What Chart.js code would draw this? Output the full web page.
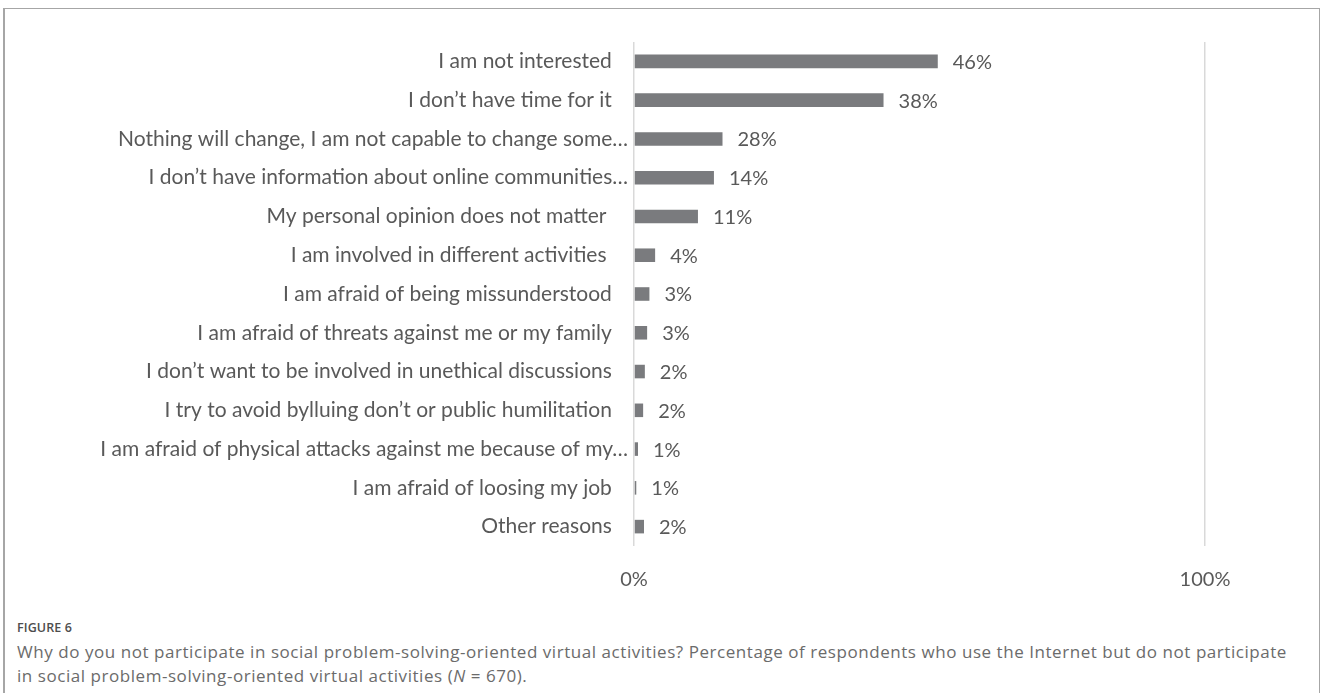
<!DOCTYPE html>
<html>
<head>
<meta charset="utf-8">
<script src="https://cdn.jsdelivr.net/npm/chart.js@4.4.1/dist/chart.umd.min.js"></script>
<style>
    html, body { margin: 0; padding: 0; background: #fff; }
    body { width: 1328px; height: 693px; position: relative; overflow: hidden; }
    .marco {
        position: absolute; left: 3px; top: 8px; width: 1317px; height: 700px;
        border: 1px solid #a6a6a6; border-left-width: 2px; box-sizing: border-box;
    }
    .grafico { position: absolute; left: 0; top: 0; width: 1328px; height: 600px; }
    .pie {
        position: absolute; left: 17px; top: 619px; font-family: 'Open Sans', sans-serif;
        color: #6b6b6b; white-space: nowrap;
    }
    .pie .titulo { font-size: 12.5px; font-weight: 600; color: #4d4d4d; letter-spacing: 0.1px; }
    .pie .texto { font-size: 17px; letter-spacing: 0.55px; line-height: 24px; margin-top: 4px; }
</style>
</head>
<body>
<div class="marco"></div>
<div class="grafico"><canvas id="motivosChart" width="1328" height="600"></canvas></div>
<div class="pie">
    <div class="titulo">FIGURE 6</div>
    <div class="texto">Why do you not participate in social problem-solving-oriented virtual activities? Percentage of respondents who use the Internet but do not participate<br>in social problem-solving-oriented virtual activities (<i>N</i> = 670).</div>
</div>
<script>
// Categorías (eje vertical)
const categorias = [
    'I am not interested',
    'I don’t have time for it',
    'Nothing will change, I am not capable to change some…',
    'I don’t have information about online communities…',
    'My personal opinion does not matter ',
    'I am involved in different activities ',
    'I am afraid of being missunderstood',
    'I am afraid of threats against me or my family',
    'I don’t want to be involved in unethical discussions',
    'I try to avoid bylluing don’t or public humilitation',
    'I am afraid of physical attacks against me because of my…',
    'I am afraid of loosing my job',
    'Other reasons'
];

// Largo de las barras (en % del eje)
const valoresBarras = [53.2, 43.7, 15.5, 14.0, 11.2, 3.7, 2.7, 2.3, 1.9, 1.6, 0.7, 0.4, 1.75];

// Etiquetas de datos tal como aparecen
const etiquetasDatos = ['46%', '38%', '28%', '14%', '11%', '4%', '3%', '3%', '2%', '2%', '1%', '1%', '2%'];

// Marcas del eje horizontal
const marcasEje = [0, 100];

const fuente = "'Lato', sans-serif";
const colorTexto = '#595959';

// Plugin para dibujar las etiquetas al final de cada barra
const etiquetasPlugin = {
    id: 'etiquetas',
    afterDatasetsDraw(chart) {
        const ctx = chart.ctx;
        const meta = chart.getDatasetMeta(0);
        ctx.save();
        ctx.font = '20px ' + fuente;
        ctx.fillStyle = colorTexto;
        ctx.textAlign = 'left';
        ctx.textBaseline = 'middle';
        meta.data.forEach((barra, i) => {
            ctx.fillText(etiquetasDatos[i], barra.x + 15, barra.y + 1);
        });
        ctx.restore();
    }
};

const ctx = document.getElementById('motivosChart').getContext('2d');
new Chart(ctx, {
    type: 'bar',
    data: {
        labels: categorias,
        datasets: [{
            data: valoresBarras,
            backgroundColor: '#7a7b7e',
            barPercentage: 0.35,
            categoryPercentage: 1
        }]
    },
    options: {
        indexAxis: 'y',
        responsive: false,
        animation: false,
        layout: { padding: { top: 42, right: 123, left: 0, bottom: 0 } },
        plugins: { legend: { display: false }, tooltip: { enabled: false } },
        scales: {
            x: {
                min: 0,
                max: 100,
                afterBuildTicks: (scale) => {
                    scale.ticks = marcasEje.map(v => ({ value: v }));
                },
                afterFit: (scale) => { scale.height = 54; },
                grid: { color: '#d9d9d9', lineWidth: 1.5, drawTicks: false },
                border: { display: false },
                ticks: {
                    padding: 22,
                    color: colorTexto,
                    font: { family: fuente, size: 20 },
                    callback: (v) => v + '%'
                }
            },
            y: {
                afterFit: (scale) => { scale.width = 634; },
                grid: { display: false, drawTicks: false },
                border: { display: false },
                ticks: {
                    padding: 6,
                    color: colorTexto,
                    font: { family: fuente, size: 21 },
                    autoSkip: false,
                    callback: function (v, i) {
                        const t = categorias[i];
                        return t.endsWith('…') ? t : t + '   ';
                    }
                }
            }
        }
    },
    plugins: [etiquetasPlugin]
});
</script>
</body>
</html>
